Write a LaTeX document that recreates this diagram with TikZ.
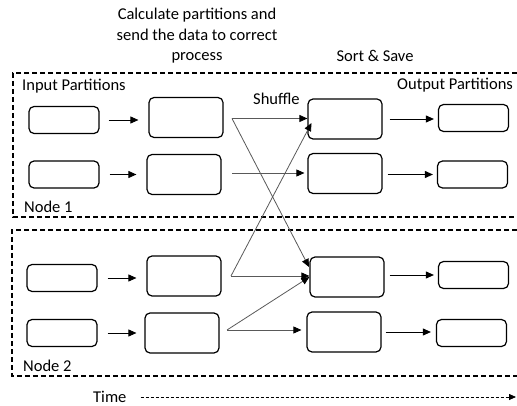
\documentclass[tikz,border=0pt]{standalone}
\usepackage{fontspec}
\setmainfont{Carlito}
\usetikzlibrary{arrows.meta}
\begin{document}
\begin{tikzpicture}[x=1pt,y=-1pt,
  font=\fontsize{16.5}{20.5}\selectfont,
  pbox/.style={draw=black,line width=1.2pt,rounded corners=5pt,inner sep=0pt},
  smallbox/.style={pbox,minimum width=70pt,minimum height=27pt},
  bigbox/.style={pbox,minimum width=74pt,minimum height=40pt},
  flow/.style={line width=0.9pt,-{Triangle[length=8pt,width=7pt]}},
  shuf/.style={draw=black!65,line width=0.8pt,-{Triangle[length=8pt,width=7pt,fill=black,color=black]}},
  region/.style={line width=1.2pt,dash pattern=on 5pt off 3pt},
  lbl/.style={inner sep=0pt,anchor=west}]
\useasboundingbox (0,0) rectangle (517,406);

% regions
\draw[region] (517,73) -- (13,73) -- (13,217) -- (517,217);
\draw[region] (517,230) -- (12,230) -- (12,376) -- (517,376);

% labels
\node[align=center,inner sep=0pt] (calc) at (197,36) {Calculate partitions and\\send the data to correct\\process};
\node[inner sep=0pt] (sort) at (375,56) {Sort \& Save};
\node[lbl] (inp) at (22,86) {Input Partitions};
\node[lbl] (outp) at (397,85) {Output Partitions};
\node[lbl] (shl) at (253,99) {Shuffle};
\node[lbl] (n1) at (24,207) {Node 1};
\node[lbl] (n2) at (23,366) {Node 2};
\node[lbl] (time) at (93,397) {Time};

% boxes
\node[smallbox] (i1) at (64,120) {};
\node[smallbox] (i2) at (64,174.5) {};
\node[smallbox] (i3) at (62,278) {};
\node[smallbox] (i4) at (62,333) {};
\node[bigbox] (c1) at (186,117.5) {};
\node[bigbox] (c2) at (184,174.5) {};
\node[bigbox] (c3) at (184,276) {};
\node[bigbox] (c4) at (182,333) {};
\node[bigbox] (d1) at (345,119) {};
\node[bigbox] (d2) at (345,173.5) {};
\node[bigbox] (d3) at (347,277) {};
\node[bigbox] (d4) at (344,332) {};
\node[smallbox] (o1) at (473.5,118) {};
\node[smallbox] (o2) at (472.5,174.5) {};
\node[smallbox] (o3) at (473.5,275) {};
\node[smallbox] (o4) at (471.5,333) {};

% first-stage arrows
\draw[flow] ([xshift=9pt]i1.east) -- ([xshift=-10pt]c1.west|-i1);
\draw[flow] ([xshift=10pt]i2.east) -- ([xshift=-10pt]c2.west);
\draw[flow] ([xshift=10pt]i3.east) -- ([xshift=-10pt]c3.west|-i3);
\draw[flow] ([xshift=10pt]i4.east) -- ([xshift=-8pt]c4.west|-i4);

% last-stage arrows
\draw[flow] ([xshift=7pt]d1.east) -- ([xshift=-4pt]o1.west|-d1);
\draw[flow] ([xshift=5pt]d2.east|-o2) -- ([xshift=-4pt]o2.west);
\draw[flow] ([xshift=5pt]d3.east|-o3) -- ([xshift=-4pt]o3.west);
\draw[flow] ([xshift=4pt]d4.east) -- ([xshift=-5pt]o4.west|-d4);

% shuffle
\coordinate (s1) at (232,118.5);
\coordinate (s2) at (232,173);
\coordinate (s3) at (231,276);
\coordinate (s4) at (227,330);
\coordinate (t1) at (311.5,123);
\coordinate (t3) at (309,267);
\draw[shuf] (s1) -- (d1.west|-s1);
\draw[shuf] (s1) -- (t3);
\draw[shuf] (s2) -- ([xshift=-3pt]d2.west|-s2);
\draw[shuf] (s3) -- (t1);
\draw[shuf] (s3) -- (d3.west|-s3);
\draw[shuf] (s4) -- (d3.west);
\draw[shuf] (s4) -- ([xshift=-5pt]d4.west|-s4);

% time axis
\coordinate (tend) at (516,397);
\draw[line width=0.8pt,dash pattern=on 3pt off 2pt,-{Triangle[length=7pt,width=6pt]}] ([xshift=14pt]time.east) -- (tend);
\end{tikzpicture}
\end{document}
